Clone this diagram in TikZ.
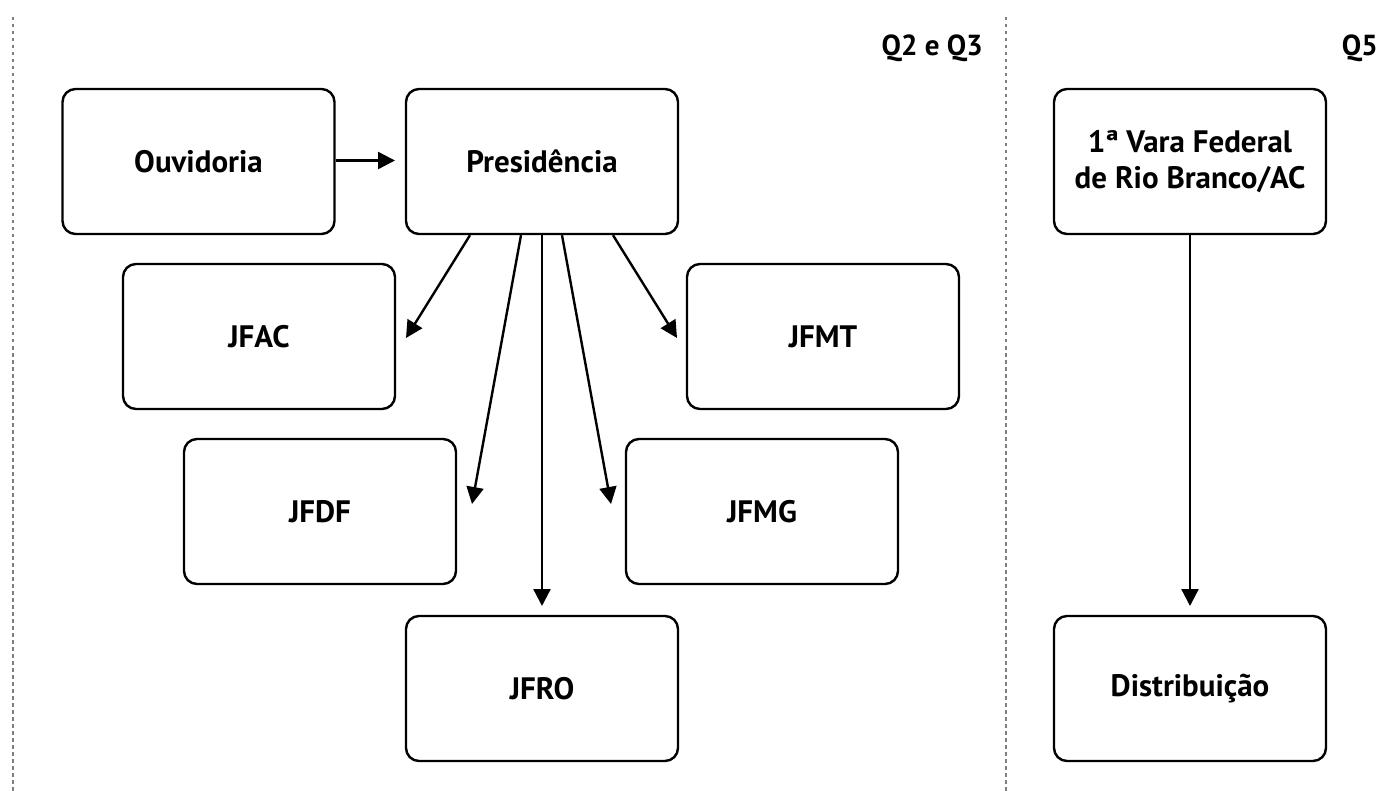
\documentclass[tikz,border=0pt]{standalone}
\usepackage{fontspec}
\setmainfont{PT Sans}
\usetikzlibrary{arrows.meta,calc}
\tikzset{
  box/.style={draw=black, line width=2.4pt, rounded corners=13pt, minimum width=272pt, minimum height=145pt, align=center, font=\bfseries\fontsize{31}{36}\selectfont, inner sep=0pt},
  conn/.style={line width=2.4pt, -{Triangle[length=17pt,width=17pt]}},
  sep/.style={draw=gray, line width=1.2pt, dash pattern=on 3.5pt off 3.5pt},
  qlabel/.style={font=\bfseries\fontsize{29}{33}\selectfont, anchor=east, inner sep=0pt}
}
\begin{document}
\begin{tikzpicture}[x=1pt,y=-1pt]
\useasboundingbox (0,0) rectangle (1378,791);
\coordinate (s1top) at (13,17);
\coordinate (s1bot) at (13,791);
\coordinate (s2top) at (1006,17);
\coordinate (s2bot) at (1006,791);
\draw[sep] (s1top) -- (s1bot);
\draw[sep] (s2top) -- (s2bot);
\node[qlabel] (q23) at (983,48) {Q2 e Q3};
\node[qlabel] (q5) at (1378,48) {Q5};
\node[box] (ouv) at (198.5,161.5) {Ouvidoria};
\node[box] (pres) at (542,161.5) {Presidência};
\node[box] (jfac) at (259,336.5) {JFAC};
\node[box] (jfmt) at (823,336.5) {JFMT};
\node[box] (jfdf) at (320,511.5) {JFDF};
\node[box] (jfmg) at (762,511.5) {JFMG};
\node[box] (jfro) at (542,688.5) {JFRO};
\node[box] (vara) at (1190,161.5) {1ª Vara Federal\\de Rio Branco/AC};
\node[box] (dist) at (1190,688.5) {Distribuição};
\coordinate (touv) at (395,160.5);
\coordinate (tac) at (406,338);
\coordinate (tdf) at (472,504);
\coordinate (tro) at (542,606);
\coordinate (tmg) at (611,504);
\coordinate (tmt) at (677,338);
\coordinate (tdist) at (1190,606);
\draw[conn] (ouv.east |- touv) -- (touv);
\draw[conn] ([xshift=-72pt]pres.south) -- (tac);
\draw[conn] ([xshift=-21pt]pres.south) -- (tdf);
\draw[conn] (pres.south) -- (tro);
\draw[conn] ([xshift=20pt]pres.south) -- (tmg);
\draw[conn] ([xshift=71pt]pres.south) -- (tmt);
\draw[conn] (vara.south) -- (tdist);
\end{tikzpicture}
\end{document}
